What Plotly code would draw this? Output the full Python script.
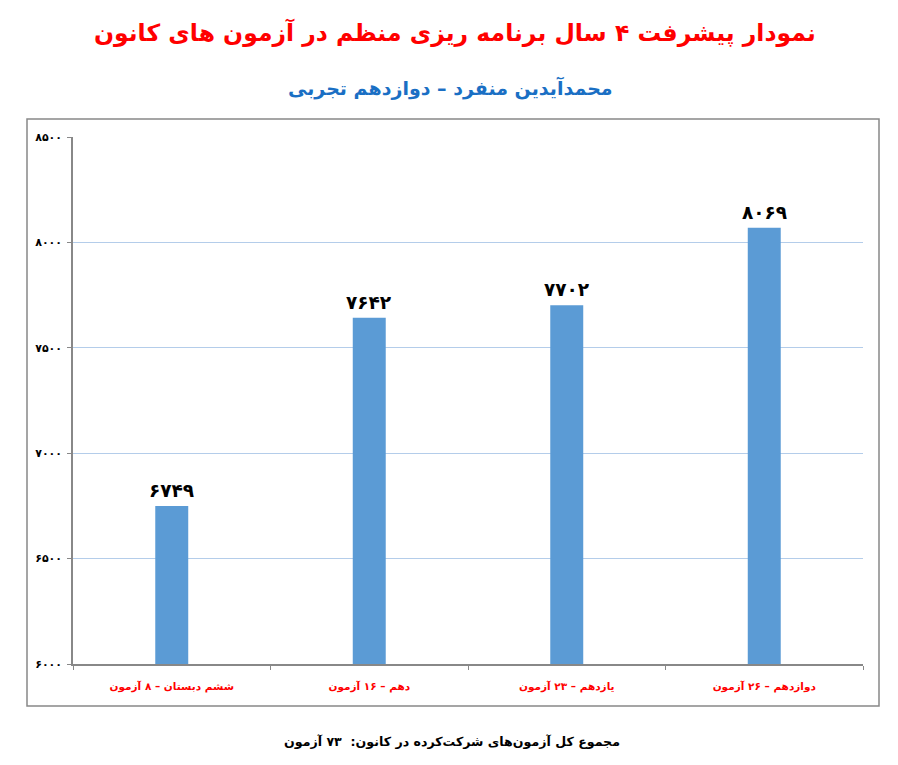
import plotly.graph_objects as go

categories = ["ششم دبستان – ۸ آزمون", "دهم – ۱۶ آزمون", "یازدهم – ۲۳ آزمون", "دوازدهم – ۲۶ آزمون"]
scores = [6749, 7642, 7702, 8069]
y_ticks = [6000, 6500, 7000, 7500, 8000, 8500]

title_text = "نمودار پیشرفت ۴ سال برنامه ریزی منظم در آزمون های کانون"
subtitle_text = "محمدآیدین منفرد – دوازدهم تجربی"
footer_text = "مجموع کل آزمون‌های شرکت‌کرده در کانون:  ۷۳ آزمون"

FA = str.maketrans("0123456789", "۰۱۲۳۴۵۶۷۸۹")
def fa(n):
    return str(n).translate(FA)

FONT = "DejaVu Sans"

OFF = 8  # page body margin
W, H = 898 - OFF, 765 - OFF
# plot area in reference page coords: x 73..863, y 137..664
L, R, T, B = 73 - OFF, 898 - 863, 137 - OFF, 765 - 664
pw, ph = W - L - R, H - T - B

def px(x):
    return (x - OFF - L) / pw
def py(y):
    return (H - B - (y - OFF)) / ph

fig = go.Figure()
fig.add_trace(go.Bar(
    x=categories, y=scores, marker=dict(color="#5b9bd5", line=dict(width=0)),
    width=0.167, hoverinfo="skip",
))

for c, v in zip(categories, scores):
    fig.add_annotation(x=c, y=v, xref="x", yref="y", text="<b>" + fa(v) + "</b>",
                       showarrow=False, yanchor="bottom", yshift=3,
                       font=dict(family=FONT, size=18.5, color="#000000"))

fig.add_annotation(x=px(455), y=py(32), xref="paper", yref="paper", text="<b>" + title_text + "</b>",
                   showarrow=False, xanchor="center", yanchor="middle",
                   font=dict(family=FONT, size=23.5, color="#ff0000"))
fig.add_annotation(x=px(450), y=py(88), xref="paper", yref="paper", text="<b>" + subtitle_text + "</b>",
                   showarrow=False, xanchor="center", yanchor="middle",
                   font=dict(family=FONT, size=19, color="#1a6fc4"))
fig.add_annotation(x=px(452), y=py(741), xref="paper", yref="paper", text="<b>" + footer_text + "</b>",
                   showarrow=False, xanchor="center", yanchor="middle",
                   font=dict(family=FONT, size=12.6, color="#000000"))

fig.add_shape(type="rect", xref="paper", yref="paper",
              x0=px(27), x1=px(879), y0=py(706), y1=py(119),
              line=dict(color="#888888", width=1.5), fillcolor="rgba(0,0,0,0)", layer="below")

fig.update_layout(
    width=W, height=H,
    margin=dict(l=L, r=R, t=T, b=B),
    paper_bgcolor="white", plot_bgcolor="white",
    showlegend=False, bargap=0.8,
    font=dict(family=FONT),
    xaxis=dict(
        type="category", showline=True, linecolor="#888888", linewidth=1.5,
        ticks="outside", ticklen=4, tickcolor="#888888", tickson="boundaries",
        tickfont=dict(family=FONT, size=10.5, color="#ff0000"),
        ticktext=["<b>" + c + "</b>" for c in categories], tickvals=categories,
        ticklabelstandoff=12,
        showgrid=False, zeroline=False,
    ),
    yaxis=dict(
        range=[6000, 8500], showline=True, linecolor="#888888", linewidth=1.5,
        ticks="outside", ticklen=4, tickcolor="#888888",
        tickvals=y_ticks, ticktext=["<b>" + fa(v) + "</b>" for v in y_ticks],
        tickfont=dict(family=FONT, size=11, color="#000000"),
        ticklabelstandoff=3,
        showgrid=True, gridcolor="#b4cdea", gridwidth=1, zeroline=False,
    ),
)

fig.write_html("out.html")
